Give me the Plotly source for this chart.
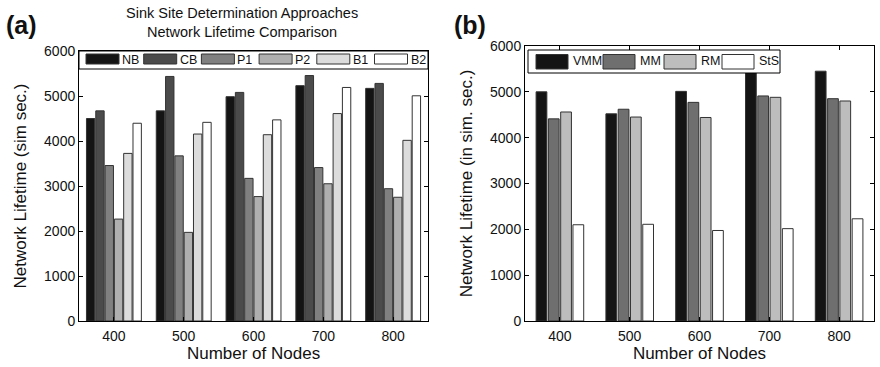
import plotly.graph_objects as go

# ---------------- data ----------------
nodes = [400, 500, 600, 700, 800]

a_names = ["NB", "CB", "P1", "P2", "B1", "B2"]
a_NB = [4500, 4670, 4985, 5230, 5170]
a_CB = [4670, 5435, 5080, 5455, 5280]
a_P1 = [3455, 3670, 3170, 3410, 2940]
a_P2 = [2265, 1970, 2765, 3050, 2750]
a_B1 = [3725, 4155, 4140, 4610, 4015]
a_B2 = [4395, 4415, 4470, 5190, 5005]

b_names = ["VMM", "MM", "RM", "StS"]
b_VMM = [5000, 4520, 5010, 5500, 5450]
b_MM = [4410, 4620, 4770, 4910, 4850]
b_RM = [4560, 4450, 4440, 4880, 4800]
b_StS = [2100, 2110, 1975, 2015, 2230]

y_ticks = [0, 1000, 2000, 3000, 4000, 5000, 6000]

# ---------------- styles ----------------
FONT = "Liberation Sans, Arial, Helvetica, sans-serif"
a_colors = ["#141414", "#4b4b4b", "#808080", "#afafaf", "#dcdcdc", "#ffffff"]
b_colors = ["#141414", "#6f6f6f", "#bdbdbd", "#ffffff"]
EDGE = "#333333"
W, H = 880, 367


def px_x(p):
    return p / W


def px_y(p):
    return 1 - p / H


fig = go.Figure()

# panel (a): six bars per group
slot_a, w_a, half_a = 13.33, 12.0, 40.0
for i, (name, vals, col) in enumerate(zip(a_names, [a_NB, a_CB, a_P1, a_P2, a_B1, a_B2], a_colors)):
    fig.add_trace(go.Bar(
        x=nodes, y=vals, name=name, showlegend=False,
        marker=dict(color=col, line=dict(color=EDGE, width=1)),
        width=w_a, offset=-half_a + i * slot_a + (slot_a - w_a) / 2,
        xaxis="x", yaxis="y", hoverinfo="x+y+name",
    ))

# panel (b): four bars per group
slot_b, w_b, half_b = 17.6, 15.4, 35.2
for i, (name, vals, col) in enumerate(zip(b_names, [b_VMM, b_MM, b_RM, b_StS], b_colors)):
    fig.add_trace(go.Bar(
        x=nodes, y=vals, name=name, showlegend=False,
        marker=dict(color=col, line=dict(color=EDGE, width=1)),
        width=w_b, offset=-half_b + i * slot_b + (slot_b - w_b) / 2,
        xaxis="x2", yaxis="y2", hoverinfo="x+y+name",
    ))

axis_common = dict(
    showline=True, linecolor="black", linewidth=1, mirror="ticks",
    ticks="inside", ticklen=4, tickcolor="black",
    showgrid=False, zeroline=False,
    tickfont=dict(family=FONT, size=14, color="#111"),
)

xa = dict(axis_common, range=[350, 850], tickvals=nodes, ticklabelstandoff=2,
          title=dict(text="Number of Nodes", font=dict(family=FONT, size=17, color="#111"), standoff=2))
ya = dict(axis_common, range=[0, 6000], tickvals=y_ticks)

# ---------------- legends (drawn as boxes inside each panel) ----------------
shapes = []
annotations = []
leg_font = dict(family=FONT, size=12.5, color="#111")

# legend (a)
shapes.append(dict(type="rect", xref="paper", yref="paper", layer="above",
                   x0=px_x(79), x1=px_x(428), y0=px_y(69), y1=px_y(51),
                   fillcolor="white", line=dict(color="black", width=1)))
for i, (name, col) in enumerate(zip(a_names, a_colors)):
    sx = 86 + i * 57.7
    shapes.append(dict(type="rect", xref="paper", yref="paper", layer="above",
                       x0=px_x(sx), x1=px_x(sx + 33), y0=px_y(64), y1=px_y(54),
                       fillcolor=col, line=dict(color=EDGE, width=1)))
    annotations.append(dict(text=name, x=px_x(sx + 35), y=px_y(59.5), xref="paper", yref="paper",
                            xanchor="left", yanchor="middle", showarrow=False, font=leg_font,
                            borderpad=0))

# legend (b)
shapes.append(dict(type="rect", xref="paper", yref="paper", layer="above",
                   x0=px_x(528), x1=px_x(780), y0=px_y(73), y1=px_y(50),
                   fillcolor="white", line=dict(color="black", width=1)))
b_leg_x = [536, 603, 664, 722]
for name, col, sx in zip(b_names, b_colors, b_leg_x):
    shapes.append(dict(type="rect", xref="paper", yref="paper", layer="above",
                       x0=px_x(sx), x1=px_x(sx + 32), y0=px_y(69), y1=px_y(54.5),
                       fillcolor=col, line=dict(color=EDGE, width=1)))
    annotations.append(dict(text=name, x=px_x(sx + 36), y=px_y(61.5), xref="paper", yref="paper",
                            xanchor="left", yanchor="middle", showarrow=False, font=leg_font,
                            borderpad=0))

annotations += [
    dict(text="Sink Site Determination Approaches<br>Network Lifetime Comparison",
         x=px_x(242), y=px_y(22), xref="paper", yref="paper",
         xanchor="center", yanchor="middle", showarrow=False,
         font=dict(family=FONT, size=14.5, color="#111")),
    dict(text="<b>(a)</b>", x=px_x(4), y=px_y(25), xref="paper", yref="paper",
         xanchor="left", yanchor="middle", showarrow=False,
         font=dict(family=FONT, size=25, color="#111")),
    dict(text="<b>(b)</b>", x=px_x(452), y=px_y(25), xref="paper", yref="paper",
         xanchor="left", yanchor="middle", showarrow=False,
         font=dict(family=FONT, size=25, color="#111")),
]

fig.update_layout(
    width=W, height=H,
    margin=dict(l=0, r=0, t=0, b=0, autoexpand=False),
    paper_bgcolor="white", plot_bgcolor="white",
    font=dict(family=FONT, color="#111"),
    barmode="overlay",
    showlegend=False,
    xaxis=dict(xa, domain=[0.0898, 0.4864], anchor="y"),
    yaxis=dict(ya, domain=[0.1253, 0.861], anchor="x",
               title=dict(text="Network Lifetime (sim sec.)", font=dict(family=FONT, size=17, color="#111"), standoff=13)),
    xaxis2=dict(xa, domain=[0.5966, 0.9932], anchor="y2"),
    yaxis2=dict(ya, domain=[0.1253, 0.8747], anchor="x2",
                title=dict(text="Network Lifetime (in sim. sec.)", font=dict(family=FONT, size=17, color="#111"), standoff=13)),
    shapes=shapes,
    annotations=annotations,
)

fig.write_html("out.html")
